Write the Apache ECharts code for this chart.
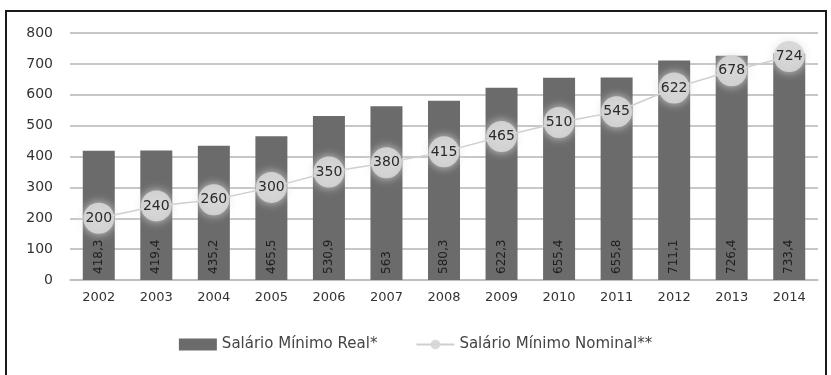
<!DOCTYPE html>
<html>
<head>
<meta charset="utf-8">
<script src="https://cdn.jsdelivr.net/npm/echarts@6/dist/echarts.min.js"></script>
<style>
  html, body { margin: 0; padding: 0; background: #fff; }
  #frame {
    position: absolute; left: 5px; top: 10px; width: 822px; height: 380px;
    border: 2px solid #1a1a1a; box-sizing: border-box;
  }
  #chart { position: absolute; left: 0; top: 0; width: 831px; height: 375px; }
</style>
</head>
<body>
<div id="frame"></div>
<div id="chart"></div>
<script>
// Anos
const years = ['2002','2003','2004','2005','2006','2007','2008','2009','2010','2011','2012','2013','2014'];
// Salário mínimo real (R$)
const realWage = [418.3, 419.4, 435.2, 465.5, 530.9, 563, 580.3, 622.3, 655.4, 655.8, 711.1, 726.4, 733.4];
// Salário mínimo nominal (R$)
const nominalWage = [200, 240, 260, 300, 350, 380, 415, 465, 510, 545, 622, 678, 724];
// Marcas do eixo Y
const yTicks = [0, 100, 200, 300, 400, 500, 600, 700, 800];

const fmt = v => String(v).replace('.', ',');

const chart = echarts.init(document.getElementById('chart'), null, { renderer: 'canvas' });
chart.setOption({
  animation: false,
  backgroundColor: 'transparent',
  textStyle: { fontFamily: 'DejaVu Sans' },
  grid: { left: 70, right: 13, top: 33, bottom: 95, containLabel: false },
  legend: {
    bottom: 18,
    left: 'center',
    itemGap: 38,
    itemWidth: 38,
    itemHeight: 12,
    textStyle: { color: '#444', fontSize: 15, fontFamily: 'DejaVu Sans' },
    data: [
      { name: 'Salário Mínimo Real*', icon: 'rect' },
      { name: 'Salário Mínimo Nominal**' }
    ]
  },
  xAxis: {
    type: 'category',
    data: years,
    axisTick: { show: false },
    axisLine: { lineStyle: { color: '#bdbdbd', width: 1.5 } },
    axisLabel: { color: '#333', fontSize: 13, margin: 11 }
  },
  yAxis: {
    type: 'value',
    min: yTicks[0],
    max: yTicks[yTicks.length - 1],
    interval: 100,
    axisLine: { show: false },
    axisTick: { show: false },
    axisLabel: { color: '#333', fontSize: 14, margin: 17 },
    splitLine: { lineStyle: { color: '#b5b5b5', width: 1.5 } }
  },
  series: [
    {
      name: 'Salário Mínimo Real*',
      type: 'bar',
      data: realWage,
      barWidth: 32,
      itemStyle: { color: '#6b6b6b' },
      label: {
        show: true,
        position: 'insideBottom',
        rotate: 90,
        align: 'left',
        verticalAlign: 'middle',
        distance: 6,
        color: '#1e1e1e',
        fontSize: 12,
        formatter: p => fmt(p.value)
      }
    },
    {
      name: 'Salário Mínimo Nominal**',
      type: 'line',
      data: nominalWage,
      symbol: 'circle',
      symbolSize: 31,
      lineStyle: { color: '#cfcfcf', width: 1.5 },
      itemStyle: {
        color: 'rgba(214,214,214,0.9)',
        shadowBlur: 10,
        shadowColor: 'rgba(225,225,225,0.95)'
      },
      label: {
        show: true,
        position: 'inside',
        color: '#2a2a2a',
        fontSize: 14,
        formatter: p => fmt(p.value)
      },
      z: 3
    }
  ]
});
</script>
</body>
</html>
